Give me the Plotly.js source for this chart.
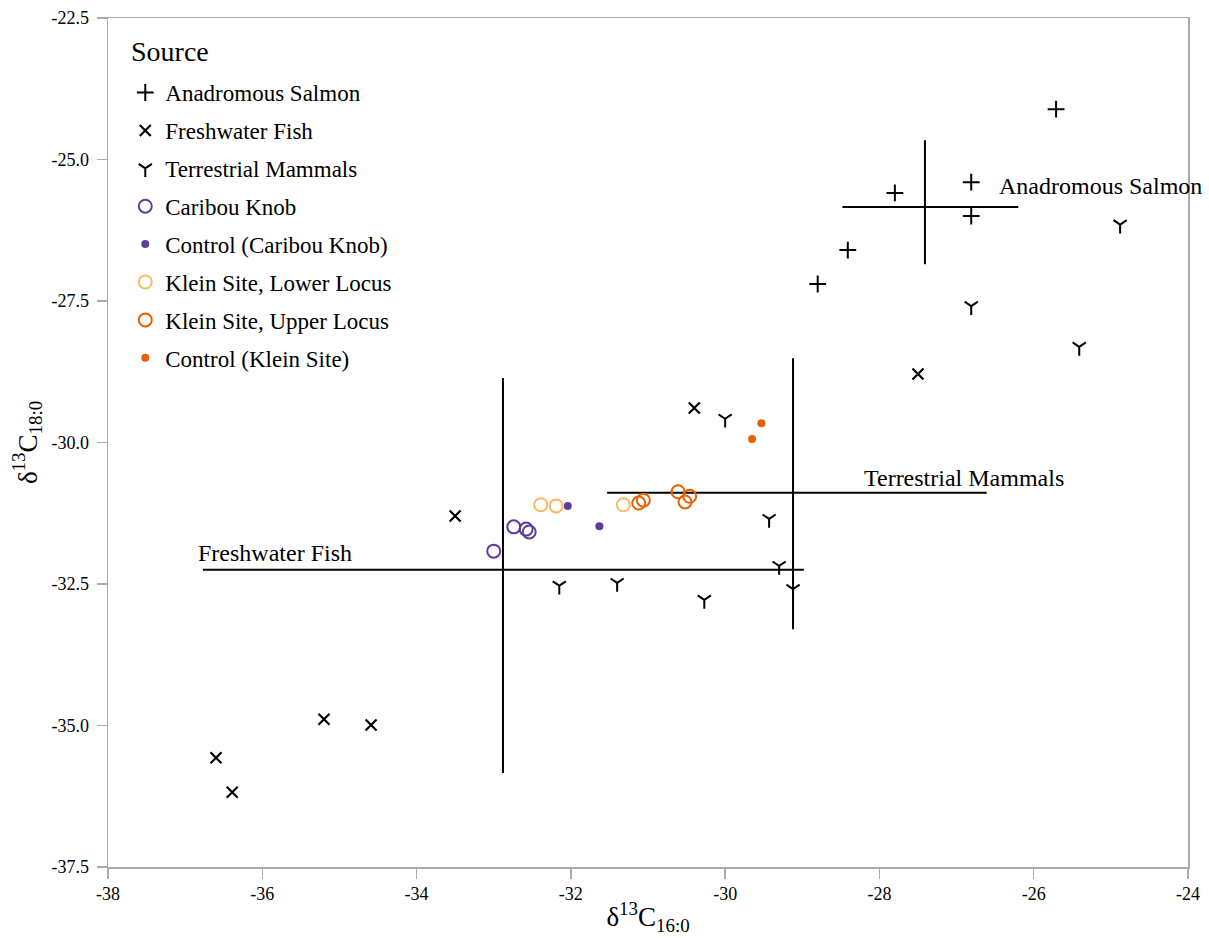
<!DOCTYPE html>
<html>
<head>
<meta charset="utf-8">
<script src="https://cdn.plot.ly/plotly-3.0.1.min.js"></script>
<style>html,body{margin:0;padding:0;background:#fff;}#chart{width:1209px;height:938px;}</style>
</head>
<body>
<div id="chart"></div>
<script>
// Data
var salmonX = [-25.71, -27.80, -26.81, -26.81, -28.41, -28.80];
var salmonY = [-24.11, -25.59, -25.40, -26.00, -26.60, -27.20];

var fishX = [-30.40, -27.50, -33.50, -35.20, -34.59, -36.60, -36.39];
var fishY = [-29.39, -28.79, -31.30, -34.89, -34.99, -35.57, -36.18];

var mammalX = [-24.88, -26.81, -25.41, -30.00, -29.43, -29.30, -32.15, -31.40, -30.27, -29.12];
var mammalY = [-26.15, -27.59, -28.31, -29.58, -31.35, -32.18, -32.53, -32.48, -32.78, -32.59];

var caribouX = [-33.00, -32.74, -32.58, -32.54];
var caribouY = [-31.92, -31.49, -31.53, -31.58];

var ctrlCaribouX = [-32.04, -31.63];
var ctrlCaribouY = [-31.12, -31.48];

var kleinLowerX = [-32.39, -32.19, -31.32];
var kleinLowerY = [-31.10, -31.12, -31.10];

var kleinUpperX = [-31.12, -31.06, -30.61, -30.46, -30.52];
var kleinUpperY = [-31.07, -31.02, -30.87, -30.95, -31.05];

var ctrlKleinX = [-29.53, -29.65];
var ctrlKleinY = [-29.66, -29.94];

// Source range crosses
var crossNames = ["Freshwater Fish", "Terrestrial Mammals", "Anadromous Salmon"];
var crossCenterX = [-32.88, -29.12, -27.41];
var crossCenterY = [-32.25, -30.89, -25.84];
var crossXMin = [-36.77, -31.53, -28.48];
var crossXMax = [-28.98, -26.61, -26.20];
var crossYMin = [-35.84, -33.30, -26.85];
var crossYMax = [-28.86, -28.51, -24.66];
var crossLabelX = [-35.84, -26.90, -25.14];
var crossLabelY = [-31.95, -30.63, -25.47];

var xTicks = [-38, -36, -34, -32, -30, -28, -26, -24];
var yTicks = [-37.5, -35.0, -32.5, -30.0, -27.5, -25.0, -22.5];

var FAM = "Liberation Serif";
function F(size) { return {family: FAM, size: size, color: "#000000"}; }

var traces = [];
for (var i = 0; i < crossNames.length; i++) {
  traces.push({
    x: [crossXMin[i], crossXMax[i], null, crossCenterX[i], crossCenterX[i]],
    y: [crossCenterY[i], crossCenterY[i], null, crossYMin[i], crossYMax[i]],
    mode: "lines", type: "scatter", line: {color: "#000000", width: 2},
    showlegend: false, hoverinfo: "skip"
  });
}

function pts(name, xs, ys, symbol, color, size, lw, group) {
  return {
    x: xs, y: ys, name: name, mode: "markers", type: "scatter",
    legendgroup: group,
    marker: {symbol: symbol, size: size, color: color,
             line: {color: color, width: lw}}
  };
}
traces.push(pts("Anadromous Salmon", salmonX, salmonY, "cross-thin", "#000000", 12, 2, "g1"));
traces.push(pts("Freshwater Fish", fishX, fishY, "x-thin", "#000000", 11, 2.2, "g2"));
traces.push(pts("Terrestrial Mammals", mammalX, mammalY, "y-down", "#000000", 11, 2, "g3"));
traces.push(pts("Caribou Knob", caribouX, caribouY, "circle-open", "#5e3c99", 13, 2, "g4"));
traces.push(pts("Control (Caribou Knob)", ctrlCaribouX, ctrlCaribouY, "circle", "#5e3c99", 8, 0, "g5"));
traces.push(pts("Klein Site, Lower Locus", kleinLowerX, kleinLowerY, "circle-open", "#fdb863", 13, 2, "g6"));
traces.push(pts("Klein Site, Upper Locus", kleinUpperX, kleinUpperY, "circle-open", "#e66101", 13, 2, "g7"));
traces.push(pts("Control (Klein Site)", ctrlKleinX, ctrlKleinY, "circle", "#e66101", 8, 0, "g8"));

var annotations = [];
for (var j = 0; j < crossNames.length; j++) {
  annotations.push({
    x: crossLabelX[j], y: crossLabelY[j], text: crossNames[j],
    showarrow: false, xanchor: "center", yanchor: "middle",
    font: F(24)
  });
}
// legend heading
annotations.push({
  xref: "paper", yref: "paper", x: 0.0194, y: 0.960,
  xanchor: "left", yanchor: "middle", showarrow: false,
  text: "Source", font: F(28)
});

function axis(range, vals, texts, title, standoff, labelGap) {
  return {
    range: range, tickmode: "array", tickvals: vals, ticktext: texts,
    showline: true, linecolor: "#aaaaaa", linewidth: 1.5, mirror: true,
    ticks: "outside", ticklen: 10, tickcolor: "#aaaaaa", tickwidth: 1.5,
    ticklabelstandoff: labelGap,
    showgrid: false, zeroline: false,
    tickfont: F(18),
    title: {text: title, font: F(27), standoff: standoff}
  };
}

var layout = {
  width: 1209, height: 938,
  margin: {l: 108, r: 21, t: 18, b: 71},
  paper_bgcolor: "#ffffff", plot_bgcolor: "#ffffff",
  font: F(18),
  xaxis: axis([-38, -24], xTicks, xTicks.map(String), "δ<sup>13</sup>C<sub>16:0</sub>", 4, 0),
  yaxis: axis([-37.5, -22.5], yTicks, yTicks.map(function(v){return v.toFixed(1);}), "δ<sup>13</sup>C<sub>18:0</sub>", 6, 4),
  showlegend: true,
  legend: {
    x: 0.016, y: 0.9375, xanchor: "left", yanchor: "top",
    bgcolor: "rgba(255,255,255,0)", borderwidth: 0,
    font: F(23),
    tracegroupgap: 5, itemwidth: 30
  },
  annotations: annotations
};

Plotly.newPlot("chart", traces, layout, {displayModeBar: false, staticPlot: true});
</script>
</body>
</html>
